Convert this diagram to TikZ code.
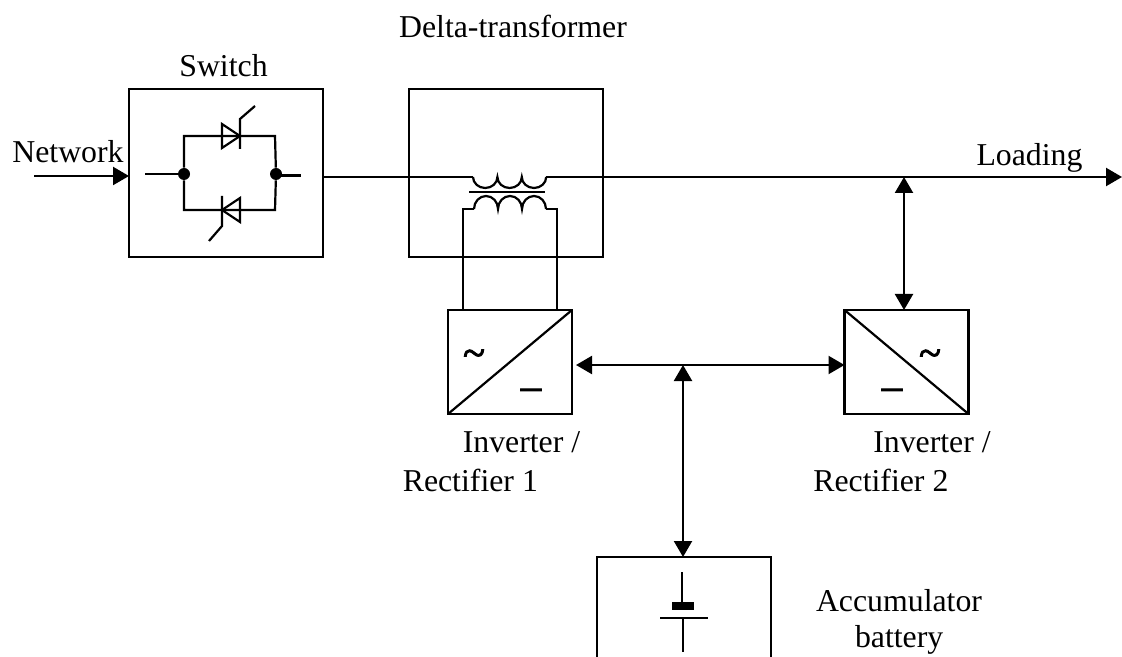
\documentclass[tikz,border=0pt]{standalone}
\usepackage{fontspec}
\setmainfont{Liberation Serif}
\newfontfamily\signfont[FakeBold=2.5]{Liberation Serif}
\usetikzlibrary{arrows.meta, positioning}
\tikzset{
  unitbox/.style={rectangle, draw=black, line width=1.1pt, inner sep=0pt, outer sep=0pt},
  bigbox/.style={unitbox, minimum width=97pt, minimum height=84pt},
  invbox/.style={unitbox, minimum width=62pt, minimum height=52pt},
  lbl/.style={inner sep=0pt, align=left, font=\fontsize{15.9}{19.5}\selectfont},
  sign/.style={inner sep=0pt, font=\fontsize{20}{20}\signfont},
  dot/.style={circle, fill=black, inner sep=0pt, minimum size=6pt},
  wire/.style={line width=1.1pt},
  arrow/.style={-{Triangle[length=8pt, width=9pt]}, line width=1.1pt},
  biarrow/.style={{Triangle[length=8pt, width=9pt]}-{Triangle[length=8pt, width=9pt]}, line width=1.1pt},
}
\begin{document}
\begin{tikzpicture}[x=0.5pt, y=-0.5pt]
\useasboundingbox (0,0) rectangle (1122,657);
\node[bigbox] (switch) at (226,173){};
\node[bigbox] (delta) at (506,173){};
\node[invbox] (inv1) at (510,362){};
\node[invbox] (inv2) at (906.5,362){};
% texts
\node[lbl] (switchlbl) at (223.5,66){Switch};
\node[lbl] (deltalbl) at (513,26){Delta-transformer};
\node[lbl] (netlbl) at (68,152){Network};
\node[lbl] (loadlbl) at (1029.5,158){Loading};
\node[lbl] (inv1lbl) at (491.5,462){\hspace*{30pt}Inverter /\\Rectifier 1};
\node[lbl] (inv2lbl) at (902,462){\hspace*{30pt}Inverter /\\Rectifier 2};
\node[lbl] (battlbl) at (899,621.5){Accumulator\\[-1.5pt]\hspace*{19.5pt}battery};
% switch
\coordinate (swtl) at (184,136); \coordinate (swbr) at (275,210);
\node[dot] (dotl) at (184,174){};
\node[dot] (dotr) at (276,174){};
\coordinate (swin) at (145,174); \coordinate (swout) at (301,175.5);
\draw[wire] (swin)--(dotl);
\draw[wire] (dotr|-swout)--(swout);
\draw[wire] (dotl)--(swtl)--(swtl-|swbr)--(dotr);
\draw[wire] (dotl)--(swtl|-swbr)--(swbr)--(dotr);
\draw[wire] (222,124)--(222,148)--(240,136)--cycle;
\draw[wire] (240,149)--(240,119)--(255,106);
\draw[wire] (240,198)--(240,222)--(222,210)--cycle;
\draw[wire] (222,196)--(222,226)--(209,241);
% transformer
\coordinate (netin) at (34,176); \coordinate (priml) at (473,177); \coordinate (primr) at (546,177);
\coordinate (secl) at (474,209); \coordinate (secr) at (546,209);
\coordinate (outend) at (1122,177);
\coordinate (tapl) at (463,209); \coordinate (tapr) at (557,209);
\coordinate (tap2) at (904,177); \coordinate (busm) at (683,365);
\draw[wire] (switch.east|-priml)--(priml);
\draw[wire] (priml) arc[start angle=180,end angle=0,x radius=12.2,y radius=11]
  arc[start angle=180,end angle=0,x radius=12.2,y radius=11]
  arc[start angle=180,end angle=0,x radius=12.2,y radius=11];
\draw[line width=1.3pt] (469,192)--(545,192);
\draw[wire] (secl) arc[start angle=180,end angle=360,x radius=12,y radius=13]
  arc[start angle=180,end angle=360,x radius=12,y radius=13]
  arc[start angle=180,end angle=360,x radius=12,y radius=13];
\draw[wire] (secl)--(tapl)--(tapl|-inv1.north);
\draw[wire] (secr)--(tapr)--(tapr|-inv1.north);
% inverters
\draw[wire] (inv1.south west)--(inv1.north east);
\draw[wire] (inv2.north west)--(inv2.south east);
\node[sign] (ac1) at (474,358){\textasciitilde};
\node[sign] (dc1) at (531,394){\textendash};
\node[sign] (ac2) at (930,358){\textasciitilde};
\node[sign] (dc2) at (892,394){\textendash};
% battery
\coordinate (batl) at (597,657); \coordinate (batr) at (771,657);
\coordinate (battop) at (683,557);
\draw[wire] (batl)--(batl|-battop)--(batr|-battop)--(batr);
\draw[wire] (682,572)--(682,604);
\fill (672,602) rectangle (694,610);
\draw[wire] (660,618)--(708,618);
\draw[wire] (683,618)--(683,652);
% connectors
\draw[arrow] (netin)--(switch.west|-netin);
\draw[arrow] (primr)--(outend);
\draw[biarrow] (tap2)--(tap2|-inv2.north);
\draw[biarrow, shorten <=2pt] (inv1.east|-busm)--(inv2.west|-busm);
\draw[biarrow] (busm)--(battop);
\end{tikzpicture}
\end{document}
